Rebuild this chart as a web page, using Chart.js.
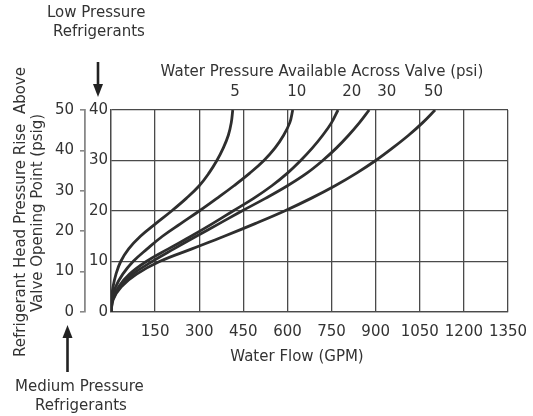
<!DOCTYPE html>
<html>
<head>
<meta charset="utf-8">
<script src="https://cdn.jsdelivr.net/npm/chart.js@4/dist/chart.umd.min.js"></script>
<style>
  html, body { margin: 0; padding: 0; background: #fff; }
  #wrap { width: 533px; height: 416px; }
</style>
</head>
<body>
<div id="wrap"><canvas id="chart" width="533" height="416"></canvas></div>
<script>
// water pressure across valve (psi) for each curve
const pressureLabels = ["5", "10", "20", "30", "50"];
// where the curve labels sit along the flow axis (GPM)
const labelFlow = [422, 632, 819, 938, 1097];

// head pressure rise (psig) levels at which each curve was read
const rise = [0, 2.5, 5, 7.5, 10, 12.5, 15, 17.5, 20, 22.5, 25, 27.5, 30, 32.5, 35, 37.5, 40];

// water flow (GPM) at each rise level
const flow5  = [0, 1.5, 7, 17, 33, 60, 100, 152, 206, 256, 300, 333, 360, 382, 399, 409, 414];
const flow10 = [0, 3.5, 16, 40, 75, 123, 175, 237, 300, 360, 418, 472, 520, 558, 587, 608, 618];
const flow20 = [0, 5.5, 26, 63, 120, 195, 272, 345, 415, 485, 547, 600, 645, 685, 720, 750, 772];
const flow30 = [0, 6.4, 30, 74, 140, 214, 290, 368, 445, 525, 600, 666, 720, 767, 808, 845, 878];
const flow50 = [0, 7.6, 35, 87, 165, 275, 385, 490, 590, 680, 762, 835, 900, 958, 1012, 1060, 1102];

const flowMax = 1350, flowStep = 150;
const riseMax = 40, riseStep = 10;      // inner scale
const outerMax = 50, outerStep = 10;    // outer scale

const ink = "#333";
const font = { family: "'DejaVu Sans', sans-serif", size: 15 };

const curves = [flow5, flow10, flow20, flow30, flow50];
const datasets = curves.map((flow, i) => ({
  label: pressureLabels[i],
  data: flow.map((x, j) => ({ x: x, y: rise[j] })),
  borderColor: "#2e2e2e",
  borderWidth: 2.8,
  pointRadius: 0,
  fill: false,
  tension: 0.4
}));

function arrow(ctx, x, tailY, tipY) {
  const dir = tipY > tailY ? 1 : -1;
  ctx.save();
  ctx.strokeStyle = "#222";
  ctx.fillStyle = "#222";
  ctx.lineWidth = 2.6;
  ctx.beginPath();
  ctx.moveTo(x, tailY);
  ctx.lineTo(x, tipY - dir * 10);
  ctx.stroke();
  ctx.beginPath();
  ctx.moveTo(x, tipY);
  ctx.lineTo(x - 5, tipY - dir * 13);
  ctx.lineTo(x + 5, tipY - dir * 13);
  ctx.closePath();
  ctx.fill();
  ctx.restore();
}

// free text and arrows around the plot
const notes = {
  id: "notes",
  afterDraw(chart) {
    const ctx = chart.ctx;
    const xs = chart.scales.x;
    ctx.save();
    ctx.fillStyle = ink;
    ctx.font = "15px 'DejaVu Sans', sans-serif";
    ctx.textBaseline = "middle";

    ctx.textAlign = "left";
    ctx.fillText("Low Pressure", 47, 13);
    ctx.fillText("Refrigerants", 53, 32);
    ctx.fillText("Medium Pressure", 15, 387);
    ctx.fillText("Refrigerants", 35, 406);

    ctx.textAlign = "center";
    ctx.fillText("Water Pressure Available Across Valve (psi)", 322, 72);
    pressureLabels.forEach((t, i) => ctx.fillText(t, xs.getPixelForValue(labelFlow[i]), 92));
    ctx.fillText("Water Flow (GPM)", 297, 357);

    ctx.save();
    ctx.translate(21, 212);
    ctx.rotate(-Math.PI / 2);
    ctx.fillText("Refrigerant Head Pressure Rise  Above", 0, 0);
    ctx.restore();
    ctx.save();
    ctx.translate(38.5, 213);
    ctx.rotate(-Math.PI / 2);
    ctx.fillText("Valve Opening Point (psig)", 0, 0);
    ctx.restore();
    ctx.restore();

    arrow(ctx, 98, 62, 97);
    arrow(ctx, 67.5, 372, 325);
  }
};

new Chart(document.getElementById("chart"), {
  type: "line",
  data: { datasets },
  options: {
    responsive: false,
    animation: false,
    devicePixelRatio: 1,
    layout: { padding: { top: 110, right: 25, left: 50, bottom: 0 } },
    plugins: { legend: { display: false }, tooltip: { enabled: false } },
    scales: {
      x: {
        type: "linear", min: 0, max: flowMax,
        ticks: { stepSize: flowStep, color: ink, font, padding: 0, maxRotation: 0, autoSkip: false,
                 callback: v => v === 0 ? "" : String(v) },
        grid: { color: "#4a4a4a", lineWidth: 1.3, drawTicks: true, tickLength: 11, tickColor: "rgba(0,0,0,0)" },
        border: { color: "#4a4a4a", width: 1.3 },
        afterFit: s => { s.height = 104; }
      },
      y: {
        type: "linear", position: "left", min: 0, max: riseMax, weight: 0,
        ticks: { stepSize: riseStep, color: ink, font, padding: 3 },
        grid: { color: "#4a4a4a", lineWidth: 1.3, drawTicks: false },
        border: { color: "#4a4a4a", width: 1.3 },
        afterFit: s => { s.width = 26; }
      },
      y2: {
        type: "linear", position: "left", min: 0, max: outerMax, weight: 1,
        ticks: { stepSize: outerStep, color: ink, font, padding: 6 },
        grid: { drawOnChartArea: false, color: "#888", lineWidth: 1.6, tickLength: 5 },
        border: { color: "#888", width: 1.8 },
        afterFit: s => { s.width = 35; }
      }
    }
  },
  plugins: [notes]
});
</script>
</body>
</html>
